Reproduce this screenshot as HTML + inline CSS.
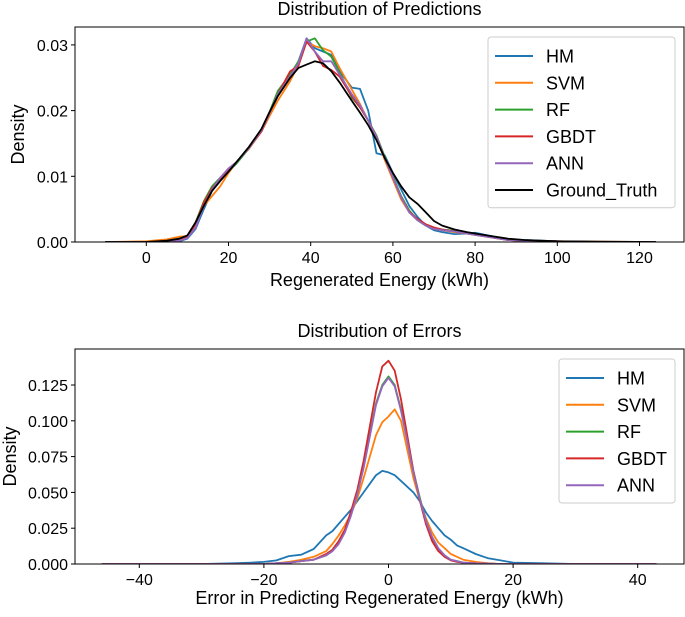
<!DOCTYPE html>
<html><head><meta charset="utf-8">
<style>
body{margin:0;background:#fff;font-family:"Liberation Sans","DejaVu Sans",sans-serif}
svg text{font-family:"Liberation Sans","DejaVu Sans",sans-serif;fill:#000}
</style></head>
<body>
<svg id="c" width="685" height="612" xmlns="http://www.w3.org/2000/svg"></svg>
<script>
const predX=[-10,0,5,8,10,12,14,16,18,20,22,25,28,30,32,35,37,39,41,43,45,47,50,52,54,56,58,60,62,64,66,68,70,72,75,78,80,84,88,92,100,110,124];
const predGT=[0,0,0.0002,0.0005,0.001,0.003,0.0055,0.0078,0.0093,0.0107,0.0122,0.0145,0.0172,0.0198,0.0222,0.025,0.0265,0.027,0.0275,0.0272,0.026,0.0243,0.0215,0.0197,0.0178,0.0155,0.0128,0.0105,0.0085,0.0068,0.0058,0.0045,0.0032,0.0025,0.0019,0.0015,0.0013,0.0009,0.0005,0.0003,0.0001,0.00005,0];
const predHM=[0,0,0,0.0001,0.0005,0.002,0.005,0.0078,0.0095,0.0107,0.012,0.0143,0.017,0.0195,0.0222,0.0252,0.0275,0.031,0.0295,0.029,0.0285,0.026,0.0235,0.0233,0.02,0.0135,0.0132,0.0105,0.008,0.0055,0.0038,0.0025,0.0018,0.0015,0.0012,0.0013,0.0014,0.0009,0.0004,0.0003,0.0001,0,0];
const predSVM=[0,0.0001,0.0004,0.0008,0.0009,0.0025,0.0055,0.007,0.0085,0.0105,0.0122,0.0142,0.0168,0.0192,0.0215,0.0245,0.027,0.0305,0.0298,0.0295,0.029,0.0265,0.0232,0.021,0.0185,0.016,0.0125,0.0095,0.0065,0.0045,0.0033,0.0025,0.002,0.0018,0.0015,0.0013,0.0011,0.0007,0.0003,0.0002,0.0001,0.00005,0];
const predRF=[0,0,0.0001,0.0003,0.0008,0.003,0.0062,0.0085,0.0098,0.0108,0.012,0.0143,0.017,0.0198,0.023,0.0255,0.0275,0.0305,0.031,0.0292,0.0282,0.0258,0.022,0.0205,0.0185,0.0162,0.013,0.01,0.007,0.0048,0.0033,0.0025,0.0021,0.0019,0.0017,0.0013,0.0011,0.0007,0.0003,0.0002,0.0001,0,0];
const predGBDT=[0,0,0.0001,0.0003,0.0008,0.0028,0.006,0.0082,0.0096,0.0108,0.0122,0.0144,0.0168,0.0196,0.0225,0.026,0.0268,0.0305,0.029,0.0268,0.0262,0.0252,0.0222,0.0205,0.0185,0.016,0.0128,0.0098,0.0068,0.0046,0.0035,0.0027,0.0022,0.0019,0.0016,0.0013,0.0011,0.0007,0.0003,0.0002,0.0001,0,0];
const predANN=[0,0,0,0.0002,0.0006,0.0022,0.0055,0.008,0.0098,0.0112,0.0122,0.0143,0.017,0.0196,0.0225,0.0252,0.0272,0.031,0.029,0.0275,0.0275,0.0255,0.0225,0.0208,0.0185,0.016,0.0128,0.0098,0.0068,0.0045,0.0033,0.0025,0.002,0.0018,0.0016,0.0013,0.0011,0.0007,0.0003,0.0002,0.0001,0,0];
const errX=[-46,-30,-25,-22,-20,-18,-16,-14,-12,-10,-9,-8,-7,-6,-5,-4,-3,-2,-1,0,1,2,3,4,5,6,7,8,9,10,11,12,14,16,18,20,25,30,43];
const errHM=[0,0,0.0005,0.001,0.0015,0.0025,0.0055,0.0065,0.0105,0.02,0.023,0.028,0.033,0.038,0.044,0.05,0.056,0.062,0.065,0.064,0.062,0.058,0.054,0.05,0.044,0.036,0.03,0.025,0.02,0.017,0.013,0.011,0.007,0.004,0.0025,0.001,0.0005,0,0];
const errSVM=[0,0,0,0,0,0.0005,0.0015,0.003,0.005,0.009,0.014,0.02,0.027,0.035,0.046,0.06,0.075,0.09,0.099,0.103,0.108,0.1,0.08,0.06,0.045,0.032,0.022,0.015,0.011,0.007,0.005,0.003,0.0015,0.0005,0,0,0,0,0];
const errRF=[0,0,0,0,0,0.0005,0.001,0.002,0.003,0.006,0.009,0.015,0.023,0.035,0.05,0.068,0.09,0.112,0.125,0.131,0.125,0.108,0.087,0.065,0.047,0.03,0.018,0.01,0.006,0.003,0.002,0.001,0.0005,0.0002,0,0,0,0,0];
const errGBDT=[0,0,0,0,0,0.0005,0.001,0.002,0.003,0.007,0.01,0.016,0.024,0.037,0.052,0.072,0.096,0.12,0.138,0.142,0.135,0.115,0.09,0.065,0.045,0.028,0.016,0.009,0.005,0.0025,0.0015,0.001,0.0005,0.0002,0,0,0,0,0];
const errANN=[0,0,0,0,0,0.0005,0.001,0.002,0.003,0.006,0.009,0.014,0.022,0.034,0.049,0.067,0.089,0.111,0.124,0.13,0.124,0.107,0.086,0.064,0.046,0.03,0.019,0.011,0.006,0.003,0.002,0.001,0.0005,0.0002,0,0,0,0,0];
const predTicksX=[0,20,40,60,80,100,120];
const predTicksY=[0,0.01,0.02,0.03];
const errTicksX=[-40,-20,0,20,40];
const errTicksY=[0,0.025,0.05,0.075,0.1,0.125];
const colors={HM:'#1f77b4',SVM:'#ff7f0e',RF:'#2ca02c',GBDT:'#d62728',ANN:'#9467bd',Ground_Truth:'#000000'};

const NS='http://www.w3.org/2000/svg';
const svg=document.getElementById('c');
function mk(tag,attrs,parent){const e=document.createElementNS(NS,tag);for(const k in attrs)e.setAttribute(k,attrs[k]);(parent||svg).appendChild(e);return e;}

function panel(o){
  const g=mk('g',{});
  
  
  const sx=v=>o.x0px+(v-o.x0)*o.kx, sy=v=>o.ybot-(v)*o.ky;
  const t=mk('text',{x:(o.left+o.right)/2,y:o.titleY,'text-anchor':'middle','font-size':18},g);t.textContent=o.title;
  
  
  o.tx.forEach(v=>{const x=sx(v);mk('line',{x1:x,x2:x,y1:o.bottom,y2:o.bottom+4,stroke:'#000'},g);
    const l=mk('text',{x:x,y:o.bottom+21,'text-anchor':'middle','font-size':16},g);l.textContent=(v<0?'\u2212'+(-v):v);
    
    });
  o.ty.forEach(v=>{const y=sy(v);mk('line',{x1:o.left-4,x2:o.left,y1:y,y2:y,stroke:'#000'},g);
    const l=mk('text',{x:o.left-7,y:y+6,'text-anchor':'end','font-size':16},g);l.textContent=v.toFixed(o.dec);
    
    });
  const xl=mk('text',{x:(o.left+o.right)/2,y:o.bottom+o.xlOff,'text-anchor':'middle','font-size':18},g);xl.textContent=o.xlabel;
  
  
  const yl=mk('text',{x:0,y:0,'text-anchor':'middle','font-size':18,transform:`translate(${o.ylx},${(o.top+o.bottom)/2}) rotate(-90)`},g);yl.textContent='Density';
  
  
  const clip=mk('clipPath',{id:'cl'+o.id},g);mk('rect',{x:o.left,y:o.top,width:o.right-o.left,height:o.bottom-o.top},clip);
  o.series.forEach(([name,xs,ys])=>{
    const d=xs.map((x,i)=>(i?'L':'M')+sx(x).toFixed(1)+','+sy(ys[i]).toFixed(1)).join('');
    const p=mk('path',{d:d,fill:'none',stroke:colors[name],'stroke-width':1.8,'stroke-linejoin':'round','clip-path':`url(#cl${o.id})`},g);
    
    
  });
  mk('rect',{x:o.left,y:o.top,width:o.right-o.left,height:o.bottom-o.top,fill:'none',stroke:'#000','stroke-width':1},g);
  const lg=mk('g',{},g);
  
  
  mk('rect',{x:o.lx,y:o.ly,width:o.lw,height:o.series.length*26.8+10,fill:'#fff',stroke:'#ccc',rx:3},lg);
  o.series.forEach(([name],i)=>{const y=o.ly+19+i*26.8;
    mk('line',{x1:o.lx+7,x2:o.lx+45,y1:y,y2:y,stroke:colors[name],'stroke-width':2},lg);
    const tt=mk('text',{x:o.lx+58,y:y+6.5,'font-size':18},lg);tt.textContent=name;
    
    });
}
panel({id:'predictions',title:'Distribution of Predictions',titleY:15,left:75,right:684,top:27,bottom:242,
  x0:0,x0px:146.3,kx:82.2/20,ybot:242,ky:65.7/0.01,tx:predTicksX,ty:predTicksY,dec:2,ylx:24,xlOff:44,
  xlabel:'Regenerated Energy (kWh)',lx:488,ly:37,lw:187,
  series:[['HM',predX,predHM],['SVM',predX,predSVM],['RF',predX,predRF],['GBDT',predX,predGBDT],['ANN',predX,predANN],['Ground_Truth',predX,predGT]]});
panel({id:'errors',title:'Distribution of Errors',titleY:337,left:75,right:684,top:349,bottom:564,
  x0:0,x0px:388.5,kx:124.6/20,ybot:564,ky:35.8/0.025,tx:errTicksX,ty:errTicksY,dec:3,ylx:16,xlOff:40,
  xlabel:'Error in Predicting Regenerated Energy (kWh)',lx:559,ly:359,lw:116,
  series:[['HM',errX,errHM],['SVM',errX,errSVM],['RF',errX,errRF],['GBDT',errX,errGBDT],['ANN',errX,errANN]]});
</script>
</body></html>
